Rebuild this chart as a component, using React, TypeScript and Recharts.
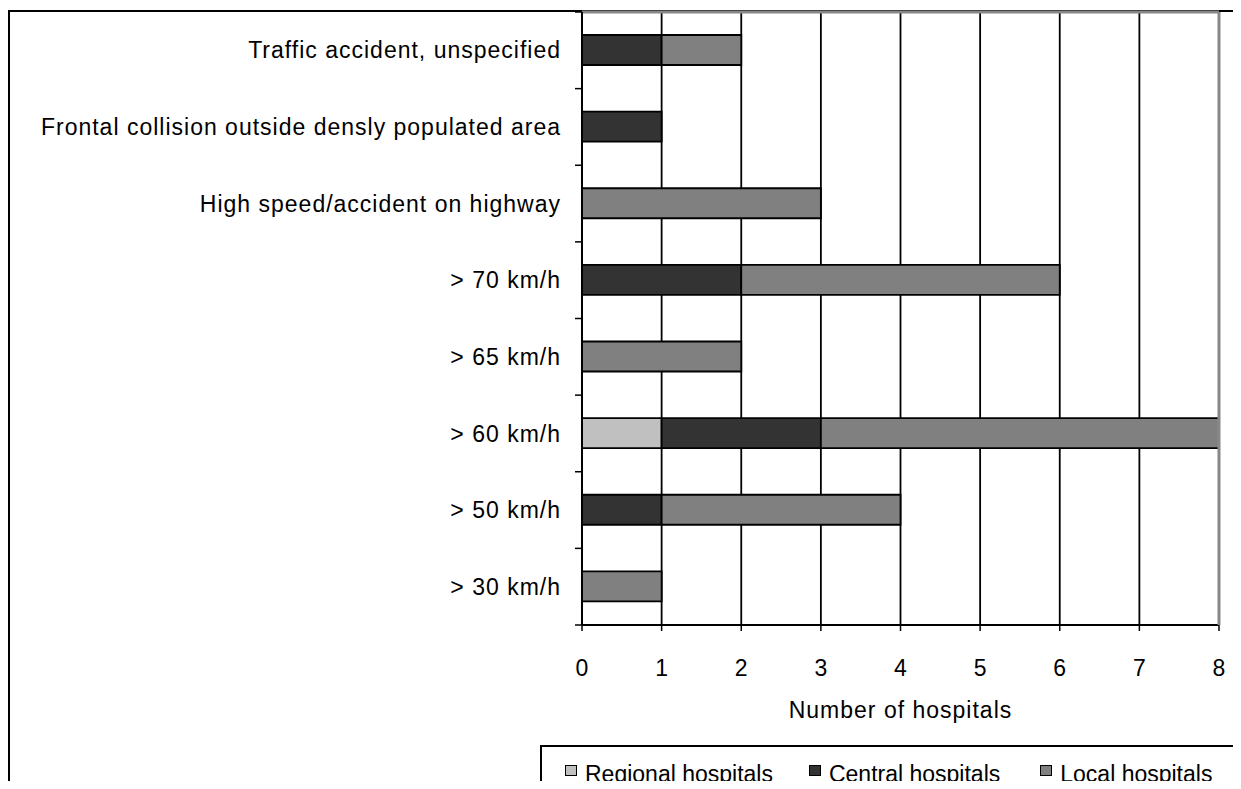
import React from 'react';
import { BarChart, Bar, XAxis, YAxis, CartesianGrid, Legend } from 'recharts';

const categories = [
  'Traffic accident, unspecified',
  'Frontal collision outside densly populated area',
  'High speed/accident on highway',
  '> 70 km/h',
  '> 65 km/h',
  '> 60 km/h',
  '> 50 km/h',
  '> 30 km/h',
];
const regionalHospitals = [0, 0, 0, 0, 0, 1, 0, 0];
const centralHospitals = [1, 1, 0, 2, 0, 2, 1, 0];
const localHospitals = [1, 0, 3, 4, 2, 5, 3, 1];
const xTicks = [0, 1, 2, 3, 4, 5, 6, 7, 8];
const seriesKeys = ['regional', 'central', 'local'];
const seriesNames = ['Regional hospitals', 'Central hospitals', 'Local hospitals'];
const seriesColors = ['#c0c0c0', '#333333', '#808080'];
const xAxisTitle = 'Number of hospitals';

const data = categories.map((c, i) => ({
  category: c,
  regional: regionalHospitals[i],
  central: centralHospitals[i],
  local: localHospitals[i],
}));

const FONT = '"Liberation Sans", Arial, Helvetica, sans-serif';
const CAT_TICK_MARGIN = 21;
const BOUNDARY_TICK = 7;

const CategoryTick = (props: any) => {
  const { x, y, payload, index, visibleTicksCount } = props;
  const off = payload && typeof payload.offset === 'number' ? payload.offset : 0;
  const lx = x + CAT_TICK_MARGIN;
  return (
    <g>
      <text
        x={x}
        y={y}
        dy="0.355em"
        textAnchor="end"
        fill="#000"
        fontSize={23}
        fontFamily={FONT}
        letterSpacing={1}
      >
        {payload.value}
      </text>
      <line x1={lx - BOUNDARY_TICK} x2={lx} y1={y - off} y2={y - off} stroke="#000" strokeWidth={1.5} />
      {index === visibleTicksCount - 1 && (
        <line x1={lx - BOUNDARY_TICK} x2={lx} y1={y + off} y2={y + off} stroke="#000" strokeWidth={1.5} />
      )}
    </g>
  );
};

const LegendBox = () => (
  <div
    style={{
      boxSizing: 'border-box',
      width: 700,
      height: 50,
      borderTop: '2px solid #000',
      borderLeft: '2px solid #000',
      borderRight: '2px solid #000',
      display: 'flex',
      alignItems: 'flex-start',
      paddingLeft: 23,
      paddingTop: 14,
      fontFamily: FONT,
      fontSize: 23,
      color: '#000',
      whiteSpace: 'nowrap',
    }}
  >
    {seriesNames.map((n, i) => (
      <div
        key={n}
        style={{ display: 'flex', alignItems: 'center', flexShrink: 0, marginRight: i === 0 ? 36 : 40 }}
      >
        <span
          style={{
            display: 'inline-block',
            boxSizing: 'border-box',
            width: 12,
            height: 11,
            background: seriesColors[i],
            border: '1.5px solid #000',
            marginRight: 8,
            marginTop: -8,
          }}
        />
        <span style={{ lineHeight: '26px' }}>{n}</span>
      </div>
    ))}
  </div>
);

export default function App() {
  return (
    <div
      style={{
        position: 'relative',
        width: 1241,
        height: 789,
        margin: -8,
        overflow: 'hidden',
        background: '#fff',
        fontFamily: FONT,
      }}
    >
      <div
        style={{
          position: 'absolute',
          left: 8,
          top: 10,
          width: 1400,
          height: 900,
          borderLeft: '2px solid #000',
          borderTop: '2px solid #000',
        }}
      />
      <BarChart
        width={1241}
        height={789}
        data={data}
        layout="vertical"
        margin={{ top: 11, right: 21, left: 0, bottom: 0 }}
        barSize={30}
        style={{ fontFamily: FONT }}
      >
        <CartesianGrid horizontal={false} vertical={true} stroke="#000" strokeWidth={1.8} xAxisId="bottom" yAxisId="cat" />
        <XAxis
          xAxisId="bottom"
          type="number"
          domain={[0, 8]}
          ticks={xTicks}
          interval={0}
          height={164}
          axisLine={{ stroke: '#000', strokeWidth: 2 }}
          tickLine={{ stroke: '#000', strokeWidth: 1.5 }}
          tickSize={6}
          tickMargin={29}
          tick={{ fill: '#000', fontSize: 23, fontFamily: FONT }}
          label={{ value: xAxisTitle, position: 'insideTop', offset: 77, fill: '#000', fontSize: 23, fontFamily: FONT, letterSpacing: 1 }}
        />
        <XAxis
          xAxisId="top"
          orientation="top"
          type="number"
          domain={[0, 8]}
          height={1}
          tick={false}
          tickLine={false}
          axisLine={{ stroke: '#888', strokeWidth: 3 }}
        />
        <YAxis
          yAxisId="cat"
          type="category"
          dataKey="category"
          width={582}
          interval={0}
          axisLine={{ stroke: '#000', strokeWidth: 2 }}
          tickLine={false}
          tickSize={0}
          tickMargin={CAT_TICK_MARGIN}
          tick={<CategoryTick />}
        />
        <YAxis
          yAxisId="r"
          orientation="right"
          type="number"
          domain={[0, 8]}
          allowDataOverflow={true}
          width={1}
          tick={false}
          tickLine={false}
          axisLine={{ stroke: '#888', strokeWidth: 3 }}
        />
        {seriesKeys.map((k, i) => (
          <Bar
            key={k}
            dataKey={k}
            name={seriesNames[i]}
            stackId="s"
            xAxisId="bottom"
            yAxisId="cat"
            fill={seriesColors[i]}
            stroke="#000"
            strokeWidth={1.8}
            isAnimationActive={false}
          />
        ))}
        <Legend
          verticalAlign="middle"
          align="center"
          layout="horizontal"
          content={() => <LegendBox />}
          wrapperStyle={{ position: 'absolute', left: 540, top: 745, width: 700, height: 50 }}
        />
      </BarChart>
    </div>
  );
}
